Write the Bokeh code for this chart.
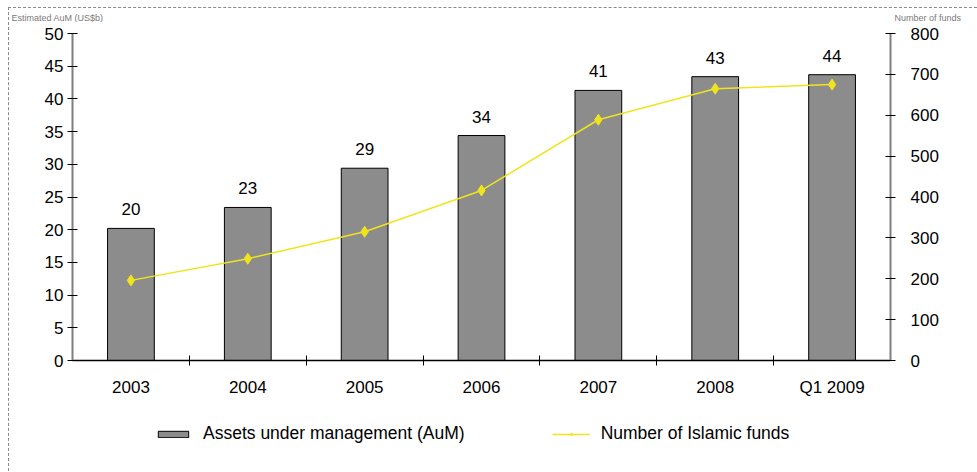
from bokeh.plotting import figure
from bokeh.layouts import column
from bokeh.models import (Range1d, LinearAxis, CategoricalAxis, FixedTicker, SingleIntervalTicker,
                          ColumnDataSource, LabelSet, Legend, LegendItem)
from bokeh.core.properties import value
from bokeh.embed import file_html
from bokeh.resources import INLINE

categories = ["2003", "2004", "2005", "2006", "2007", "2008", "Q1 2009"]
aum = [20.2, 23.4, 29.4, 34.4, 41.3, 43.4, 43.7]
aum_labels = ["20", "23", "29", "34", "41", "43", "44"]
funds = [196, 249, 315, 416, 589, 665, 675]
left_title = "Estimated AuM (US$b)"
right_title = "Number of funds"
bar_name = "Assets under management (AuM)"
line_name = "Number of Islamic funds"

FONT = "Liberation Sans"
BAR = "#8c8c8c"
YEL = "#f0e41e"
W = 968


def clean(f):
    f.outline_line_color = None
    f.xgrid.visible = False
    f.ygrid.visible = False
    f.background_fill_color = "white"
    f.border_fill_color = "white"
    return f


# ---- top strip: axis titles ----
top = clean(figure(width=W, height=14, x_range=Range1d(0, W), y_range=Range1d(0, 14),
                   output_backend="svg", toolbar_location=None, x_axis_location=None,
                   y_axis_location=None, min_border=0))
try:
    top.frame_align = False
except Exception:
    pass
tsrc = ColumnDataSource(dict(x=[2, 885], y=[5, 5], t=[left_title, right_title]))
top.text(x="x", y="y", text="t", source=tsrc, text_font=value(FONT), text_font_size="9px",
         text_color="#7a7a7a", text_baseline="middle", text_align="left")

# ---- main chart ----
src = ColumnDataSource(dict(cat=categories, aum=aum, lab=aum_labels, funds=funds))

p = clean(figure(width=W, height=378, x_range=categories, y_range=Range1d(0, 50),
                 output_backend="svg", toolbar_location=None, x_axis_location=None,
                 y_axis_location=None,
                 min_border_left=63, min_border_right=87, min_border_top=11, min_border_bottom=40))

p.extra_y_ranges = {"funds": Range1d(0, 800)}

ly = LinearAxis(ticker=SingleIntervalTicker(interval=5))
ly.axis_line_color = "#7f7f7f"
ly.axis_line_width = 2
ly.major_tick_in = 5
ly.major_tick_out = 5
ly.major_tick_line_color = "black"
ly.minor_tick_line_color = None
ly.major_label_standoff = 4
ly.major_label_text_font = FONT
ly.major_label_text_font_size = "17px"
ly.major_label_text_color = "black"
p.add_layout(ly, "left")

ry = LinearAxis(y_range_name="funds", ticker=SingleIntervalTicker(interval=100))
ry.axis_line_color = "#7f7f7f"
ry.axis_line_width = 2
ry.major_tick_in = 5
ry.major_tick_out = 5
ry.major_tick_line_color = "black"
ry.minor_tick_line_color = None
ry.major_label_standoff = 15
ry.major_label_text_font = FONT
ry.major_label_text_font_size = "17px"
ry.major_label_text_color = "black"
p.add_layout(ry, "right")

tx = LinearAxis(ticker=FixedTicker(ticks=[1, 2, 3, 4, 5, 6]))
tx.axis_line_color = "black"
tx.axis_line_width = 1.5
tx.major_tick_in = 5
tx.major_tick_out = 5
tx.major_tick_line_color = "black"
tx.minor_tick_line_color = None
tx.major_label_text_color = None
tx.major_label_text_font_size = "1px"
tx.major_label_standoff = 0
p.add_layout(tx, "below")

cx = CategoricalAxis()
cx.axis_line_color = None
cx.major_tick_line_color = None
cx.major_tick_in = 0
cx.major_tick_out = 0
cx.major_label_standoff = 12
cx.major_label_text_font = FONT
cx.major_label_text_font_size = "17px"
cx.major_label_text_color = "black"
p.add_layout(cx, "below")

p.vbar(x="cat", top="aum", width=0.4, source=src, fill_color=BAR, line_color="black", line_width=1)
p.line(x="cat", y="funds", source=src, y_range_name="funds", line_color=YEL, line_width=1.5)
p.scatter(x="cat", y="funds", source=src, y_range_name="funds", marker="diamond",
          size=11, fill_color=YEL, line_color=YEL)

labels = LabelSet(x="cat", y="aum", text="lab", source=src, y_offset=13, text_align="center",
                  text_baseline="bottom", text_font=value(FONT), text_font_size="17px",
                  text_color="black")
p.add_layout(labels)

# ---- bottom strip: legend (same series, renderers hidden, only legend shown) ----
leg = clean(figure(width=W, height=71, x_range=categories, y_range=Range1d(-2, -1),
                   output_backend="svg", toolbar_location=None, x_axis_location=None,
                   y_axis_location=None, min_border=0))
r_bar = leg.vbar(x="cat", top="aum", width=0.4, source=src, fill_color=BAR, line_color="black",
                 line_width=1, visible=False)
r_ln = leg.line(x="cat", y="funds", source=src, line_color=YEL, line_width=1.5, visible=False)
r_mk = leg.scatter(x="cat", y="funds", source=src, marker="diamond", size=9, fill_color=YEL,
                   line_color=YEL, visible=False)
legend = Legend(items=[LegendItem(label=bar_name, renderers=[r_bar]),
                       LegendItem(label=line_name, renderers=[r_ln, r_mk])],
                orientation="horizontal", location=(82, 27), border_line_color=None,
                background_fill_alpha=0, label_text_font=FONT, label_text_font_size="17.5px",
                label_text_color="black", glyph_width=38, glyph_height=8, spacing=87,
                label_standoff=11, margin=0, padding=0, click_policy="none")
leg.add_layout(legend, "center")

layout = column(top, p, leg, spacing=0,
                styles={"margin-left": "8px", "margin-top": "7px",
                        "border-left": "1px dashed #8a8a8a", "border-top": "1px dashed #8a8a8a"})

open("out.html", "w").write(file_html(layout, INLINE))
